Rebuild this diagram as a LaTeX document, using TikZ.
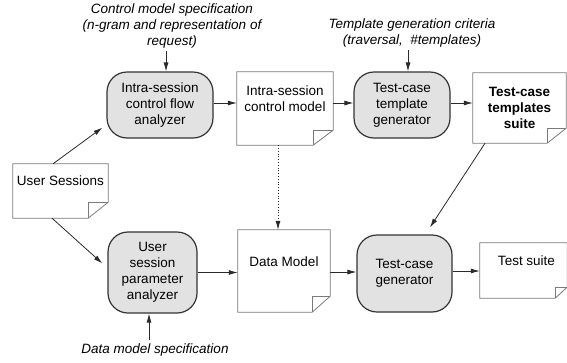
\documentclass[tikz,border=0pt]{standalone}
\usepackage{fontspec}
\setmainfont{Liberation Sans}
\usetikzlibrary{arrows.meta}
\definecolor{procfill}{HTML}{E2E2E2}
\definecolor{procline}{HTML}{333333}
\definecolor{docline}{HTML}{7A7A7A}
\definecolor{arrline}{HTML}{2A2A2A}
\newcommand\basefont{\fontsize{13.5}{16}\selectfont}
\tikzset{
  proc/.style={draw=procline, fill=procfill, line width=1.2pt, rounded corners=20pt, align=center, inner sep=0pt},
  docnode/.style={draw=none, align=center, inner sep=0pt},
  docedge/.style={draw=docline, line width=0.8pt},
  arr/.style={draw=arrline, line width=0.8pt, -{Latex[length=9pt,width=5pt]}},
  spec/.style={align=center, font=\basefont\itshape, inner sep=0pt},
}
\newcommand\docframe[3]{%
  \draw[docedge] (#1.north west) -- (#1.north east) -- ([yshift=#3pt]#1.south east) -- ([xshift=-#2pt]#1.south east) -- (#1.south west) -- cycle;
  \draw[docedge] ([yshift=#3pt]#1.south east) -- ([xshift=-#2pt,yshift=#3pt]#1.south east) -- ([xshift=-#2pt]#1.south east);
}
\begin{document}
\begin{tikzpicture}[x=1pt,y=-1pt, every node/.style={font=\basefont}]
\useasboundingbox (0,0) rectangle (567,362);
% process boxes
\node[proc, minimum width=106pt, minimum height=66pt] (icfa) at (160,105) {Intra-session\\control flow\\analyzer};
\node[proc, minimum width=96pt, minimum height=66pt] (ttg) at (402,105) {Test-case\\template\\generator};
\node[proc, minimum width=89pt, minimum height=81pt] (uspa) at (152.5,272.5) {User\\session\\parameter\\analyzer};
\node[proc, minimum width=95pt, minimum height=77pt] (tcg) at (404.5,273.5) {Test-case\\generator};
% documents
\node[docnode, minimum width=95pt, minimum height=54pt] (us) at (60.5,191) {User Sessions\\[4pt]};
\node[docnode, minimum width=96pt, minimum height=73pt] (icm) at (285,108.5) {Intra-session\\control model\\[4pt]};
\node[docnode, minimum width=93pt, minimum height=70pt, font=\basefont\bfseries] (tts) at (519.5,108) {Test-case\\templates\\suite};
\node[docnode, minimum width=92pt, minimum height=82pt] (dm) at (284,271) {Data Model\\[2pt]};
\node[docnode, minimum width=87pt, minimum height=55pt] (ts) at (523.5,270.5) {\hspace*{6pt}Test suite\\[4pt]};
\docframe{us}{20}{16}
\docframe{icm}{20}{15}
\docframe{tts}{19}{15}
\docframe{dm}{18}{16}
\docframe{ts}{12}{11}
% specifications
\node[spec] (cms) at (172,26) {Control model specification\\(n-gram and representation of\\request)};
\node[spec] (tgc) at (412,33) {Template generation criteria\\(traversal,\ \ \#templates)};
\node[spec] (dms) at (155,350) {Data model specification};
% connectors
\draw[arr] ([xshift=6pt]icfa.north |- cms.south) ++(0,3) -- ([xshift=6pt]icfa.north);
\draw[arr] ([xshift=6pt]ttg.north |- tgc.south) ++(0,3) -- ([xshift=6pt]ttg.north);
\draw[arr] ([xshift=-3.5pt]uspa.south |- dms.north) ++(0,-4) -- ([xshift=-3.5pt]uspa.south);
\draw[arr] ([xshift=-7.5pt]us.north) -- ([xshift=-4pt,yshift=11pt]icfa.south west);
\draw[arr] ([xshift=-8.5pt]us.south) -- ([xshift=-5pt,yshift=9pt]uspa.west);
\draw[arr] ([yshift=2pt]icfa.east) -- ([yshift=2pt]icfa.east -| icm.west);
\draw[arr] ([yshift=2pt]icm.east |- ttg.east) -- ([yshift=2pt]ttg.west);
\draw[arr] ([yshift=2pt]ttg.east) -- ([yshift=2pt]ttg.east -| tts.west);
\draw[arr] (uspa.east) -- (uspa.east -| dm.west);
\draw[arr] ([yshift=1.5pt]dm.east |- tcg.east) -- ([yshift=1.5pt]tcg.west);
\draw[arr] ([yshift=2.5pt]tcg.east) -- ([yshift=2.5pt]tcg.east -| ts.west);
\draw[arr] ([xshift=-34.5pt]tts.south) -- ([xshift=25.5pt,yshift=7pt]tcg.north);
\draw[arr, dotted] ([xshift=-7pt]icm.south) -- ([xshift=-6pt]dm.north);
\end{tikzpicture}
\end{document}
